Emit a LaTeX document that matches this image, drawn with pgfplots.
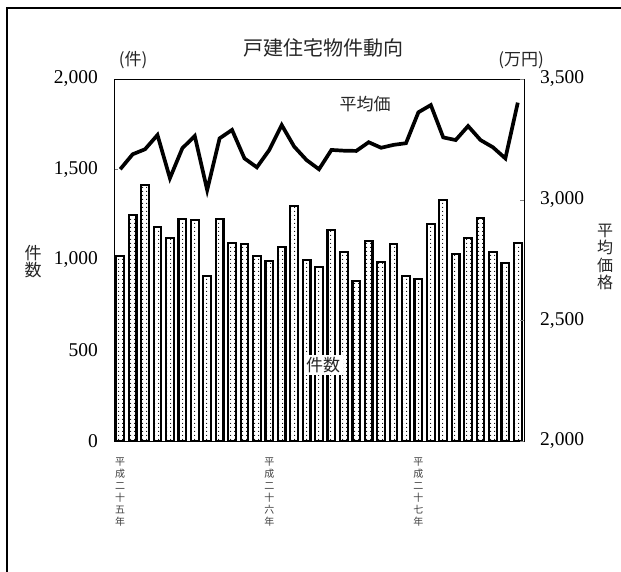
\documentclass[border=0pt]{standalone}
\usepackage{fontspec}
\setmainfont{Liberation Serif}
\newfontfamily\jp{Noto Sans CJK JP}
\usepackage{pgfplots}
\pgfplotsset{compat=1.18}
\usetikzlibrary{patterns.meta}

\begin{document}
\begin{tikzpicture}
\useasboundingbox (0,0) rectangle (621bp,572bp);
\fill[white] (0,0) rectangle (621bp,572bp);
\draw[line width=1.8bp] (7bp,-2bp) -- (7bp,564bp) -- (623bp,564bp);

\begin{axis}[
  at={(114bp,131bp)}, anchor=south west,
  scale only axis, width=410bp, height=362bp,
  xmin=-0.5, xmax=32.5, ymin=0, ymax=2000,
  ybar, bar width=0.62,
  axis line style={line width=0.8bp},
  ytick={0,500,1000,1500,2000}, ytick pos=left,
  tick align=inside, major tick length=4bp,
  xtick={0,12,24}, xtick pos=bottom,
  major x tick style={draw=none},
  xticklabels={{平\\成\\二\\十\\五\\年},{平\\成\\二\\十\\六\\年},{平\\成\\二\\十\\七\\年}},
  xticklabel style={font=\jp\fontsize{10bp}{12bp}\selectfont, align=center, anchor=north, inner sep=0pt, yshift=-1bp, text=black!75},
  scaled y ticks=false,
  yticklabel style={font=\fontsize{19.5bp}{20bp}\selectfont, inner sep=0pt},
  ticklabel shift=16bp,
  /pgf/number format/.cd, 1000 sep={,}, assume math mode=true,
]
\addplot[draw=black, line width=2.2bp, fill=white,
  postaction={pattern={Dots[distance=3.6bp, radius=0.6bp]}}]
coordinates {
(0,1020) (1,1249) (2,1413) (3,1182) (4,1121) (5,1225) (6,1221) (7,911) (8,1226) (9,1094) (10,1088) (11,1022)
(12,996) (13,1074) (14,1298) (15,1000) (16,960) (17,1164) (18,1043) (19,886) (20,1105) (21,991) (22,1087) (23,912)
(24,897) (25,1201) (26,1331) (27,1035) (28,1120) (29,1230) (30,1044) (31,985) (32,1096)
};
\end{axis}

\begin{axis}[
  at={(114bp,131bp)}, anchor=south west,
  scale only axis, width=410bp, height=362bp,
  xmin=-0.5, xmax=32.5, ymin=2000, ymax=3500,
  hide x axis, axis y line*=right,
  axis line style={line width=0.8bp},
  ytick={2000,2500,3000,3500},
  tick align=inside, major tick length=4bp,
  scaled y ticks=false,
  yticklabel style={font=\fontsize{19.5bp}{20bp}\selectfont, inner sep=0pt},
  ticklabel shift=16bp,
  /pgf/number format/.cd, 1000 sep={,}, assume math mode=true,
]
\addplot[black, line width=3.7bp, mark=none] coordinates {
(0,3126) (1,3188) (2,3209) (3,3268) (4,3089) (5,3213) (6,3264) (7,3040) (8,3254) (9,3289) (10,3171) (11,3134)
(12,3206) (13,3309) (14,3220) (15,3164) (16,3126) (17,3206) (18,3203) (19,3202) (20,3238) (21,3215) (22,3227) (23,3234)
(24,3362) (25,3392) (26,3258) (27,3247) (28,3305) (29,3247) (30,3217) (31,3171) (32,3402)
};
\end{axis}

\node[font=\jp\fontsize{20bp}{20bp}\selectfont, text=black!85] at (323bp,524bp) {戸建住宅物件動向};
\node[font=\jp\fontsize{17bp}{17bp}\selectfont, text=black!85] at (133bp,512bp) {(件)};
\node[font=\jp\fontsize{17bp}{17bp}\selectfont, text=black!85] at (521bp,512bp) {(万円)};
\node[font=\jp\fontsize{17bp}{17bp}\selectfont, text=black!85, align=center] at (33bp,310bp) {件\\数};
\node[font=\jp\fontsize{16bp}{17.5bp}\selectfont, text=black!85, align=center] at (605bp,315bp) {平\\均\\価\\格};
\node[font=\jp\fontsize{17bp}{17bp}\selectfont, text=black!85] at (365bp,468bp) {平均価};
\node[font=\jp\fontsize{17bp}{17bp}\selectfont, text=black!85, fill=white, inner sep=2.5bp] at (323bp,207bp) {件数};
\end{tikzpicture}
\end{document}
